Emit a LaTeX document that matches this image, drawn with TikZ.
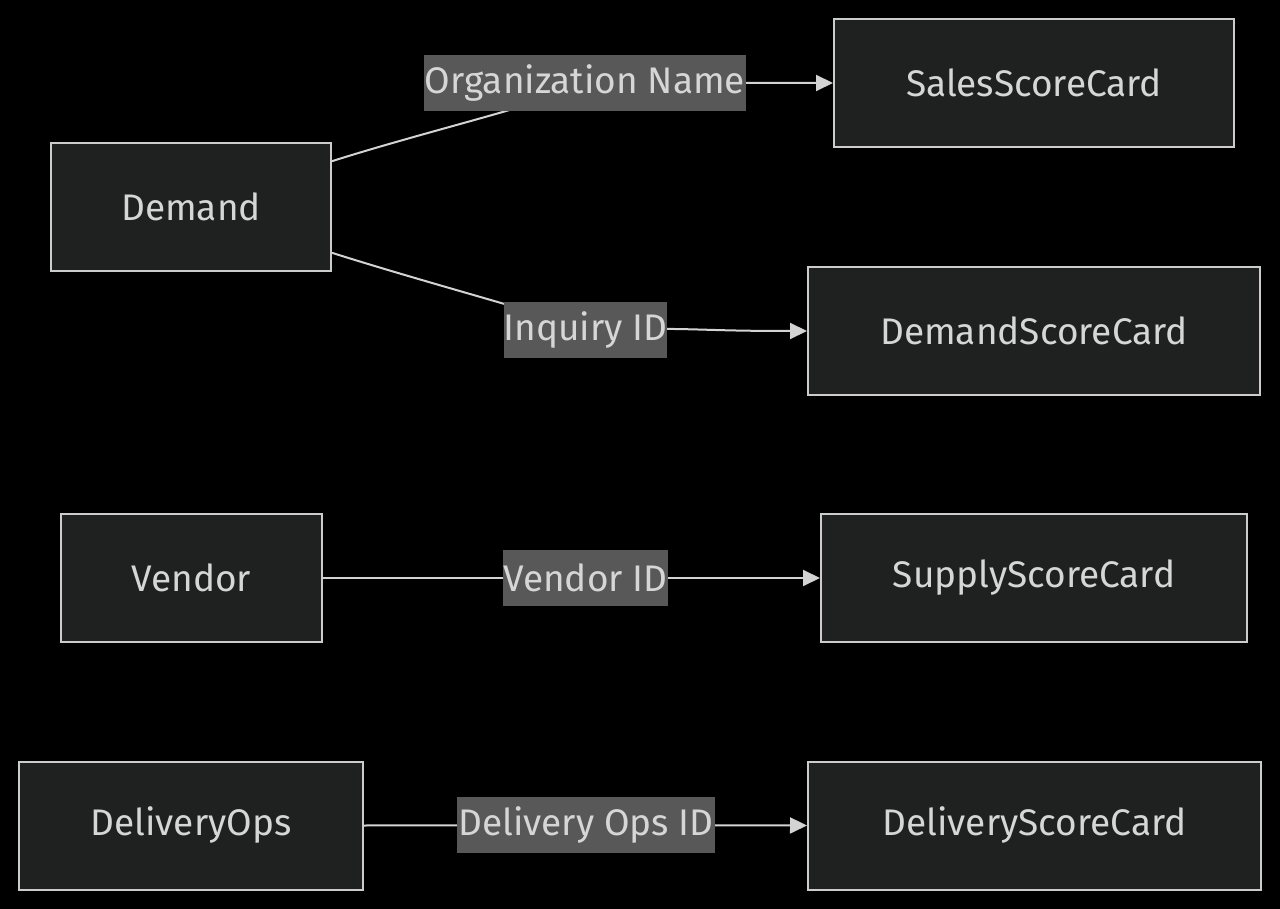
\documentclass[tikz,border=0pt]{standalone}
\usepackage{fontspec}
\setmainfont{Fira Sans}
\usetikzlibrary{arrows.meta}
\pgfdeclarelayer{bgl}
\pgfdeclarelayer{edges}
\pgfsetlayers{bgl,edges,main}
\definecolor{bgc}{HTML}{000000}
\definecolor{nodefill}{HTML}{1F2020}
\definecolor{nodeline}{HTML}{CCCCCC}
\definecolor{txt}{HTML}{D6D6D6}
\definecolor{lblfill}{HTML}{585858}
\definecolor{edgec}{HTML}{D3D3D3}
\tikzset{
  box/.style={draw=nodeline, fill=nodefill, line width=2pt, minimum height=128pt,
    text=txt, font=\fontsize{37}{44}\selectfont, inner sep=0pt},
  lbl/.style={fill=lblfill, text=txt, minimum height=56pt, inner xsep=0pt, inner ysep=0pt,
    font=\fontsize{37}{44}\selectfont},
  edge/.style={draw=edgec, line width=2pt, -{Triangle[length=17pt,width=16pt]}},
}
\begin{document}
\begin{tikzpicture}[x=1pt,y=-1pt]
\begin{pgfonlayer}{bgl}
\fill[bgc] (0,0) rectangle (1280,909);
\end{pgfonlayer}
\useasboundingbox (0,0) rectangle (1280,909);
% nodes
\node[box, minimum width=280pt] (demand) at (191,207) {Demand};
\node[box, minimum width=400pt] (sales) at (1034,83) {SalesScoreCard};
\node[box, minimum width=452pt] (dsc) at (1034,331) {DemandScoreCard};
\node[box, minimum width=261pt] (vendor) at (191.5,578) {Vendor};
\node[box, minimum width=426pt] (supply) at (1034,578) {SupplyScoreCard};
\node[box, minimum width=344pt] (dops) at (191,825.5) {DeliveryOps};
\node[box, minimum width=453pt] (dlsc) at (1034.5,825.5) {DeliveryScoreCard};
% labels
\node[lbl, minimum width=322pt] (lorg) at (585,83) {Organization Name};
\node[lbl, minimum width=163pt] (linq) at (585.5,330) {Inquiry ID};
\node[lbl, minimum width=163pt] (lven) at (585.5,578) {Vendor ID};
\node[lbl, minimum width=258pt] (ldel) at (586,825) {Delivery Ops ID};
% edges
\begin{pgfonlayer}{edges}
\draw[edge] (demand.18) .. controls (430,130) and (560,100) .. (lorg.center) -- (sales.west);
\draw[edge] (demand.-18) .. controls (430,284) and (560,318) .. (linq.center)
   .. controls (700,327) and (690,331) .. (dsc.west);
\draw[edge] (vendor.east) -- (lven.center) -- (supply.west);
\draw[edge] (dops.east) -- (ldel.center) -- (dlsc.west);
\end{pgfonlayer}
\end{tikzpicture}
\end{document}
